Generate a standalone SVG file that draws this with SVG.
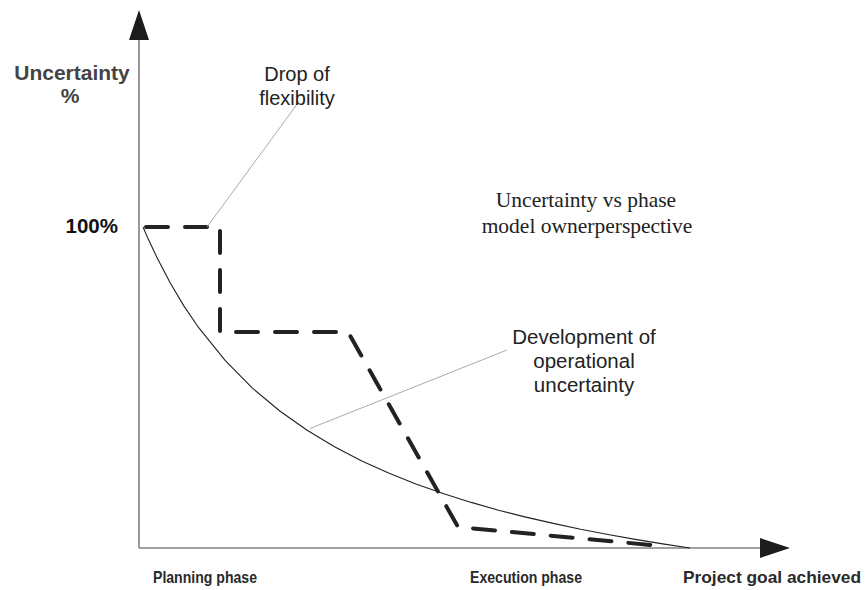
<svg xmlns="http://www.w3.org/2000/svg" width="867" height="590" viewBox="0 0 867 590">
<style>
.axis{stroke:#808080;stroke-width:1.6;fill:none}
.head{fill:#1c1c1c}
.curve{stroke:#222;stroke-width:1.1;fill:none;stroke-linejoin:round}
.dash{stroke:#222;stroke-width:4;fill:none;stroke-dasharray:22 17;stroke-linecap:round;stroke-linejoin:round}
.lead{stroke:#a0a0a0;stroke-width:0.9;fill:none}
.sans{font-family:"Liberation Sans",Arial,sans-serif;fill:#222}
.serif{font-family:"Liberation Serif","Times New Roman",serif;fill:#222}
.bold{font-weight:bold}
.narrow{font-family:"Liberation Sans Narrow","Liberation Sans",Arial,sans-serif;font-weight:bold;font-size:17px;fill:#2a2a2a}
</style>
<rect width="867" height="590" fill="#fff"/>
<g id="axes">
<line class="axis" x1="139" y1="548" x2="139" y2="38"/>
<polygon class="head" points="139,10 149,40 129,40"/>
<line class="axis" x1="139" y1="548" x2="762" y2="548"/>
<polygon class="head" points="790,548 760,538 760,558"/>
</g>
<g id="connectors">
<path class="curve" d="M143,227 L148.5,239.6 L156.7,257 L170.4,283.2 L184,306.1 L197.7,326.3 L225.1,360.4 L252.4,388.1 L279.8,411 L307.1,430.3 L334.5,446.7 L361.8,460.9 L389.2,473.3 L416.5,484.2 L443.9,493.8 L471.2,502.4 L498.6,510.2 L525.9,517.1 L553.3,523.4 L580.6,529.3 L608,534.5 L635.3,539.4 L662.7,543.9 L690,548"/>
<path class="dash" d="M146,227 L220,227 L220,332 L348,332 L458,527 L662,546"/>
<line class="lead" x1="207" y1="227" x2="298" y2="103"/>
<line class="lead" x1="310" y1="428.5" x2="507" y2="350"/>
</g>
<g id="ylabel">
<text class="sans bold" x="72" y="80" font-size="21" text-anchor="middle" style="fill:#444">Uncertainty</text>
<text class="sans bold" x="70" y="103" font-size="21" text-anchor="middle" style="fill:#444">%</text>
</g>
<g id="tick100">
<text class="sans bold" x="118" y="233" font-size="20.5" text-anchor="end" style="fill:#111">100%</text>
</g>
<g id="drop-flexibility">
<text class="sans" x="297" y="81" font-size="20" text-anchor="middle">Drop of</text>
<text class="sans" x="297" y="105" font-size="20" text-anchor="middle">flexibility</text>
</g>
<g id="title">
<text class="serif" x="586" y="207" font-size="21.5" text-anchor="middle">Uncertainty vs phase</text>
<text class="serif" x="587" y="233" font-size="21.5" text-anchor="middle">model ownerperspective</text>
</g>
<g id="operational">
<text class="sans" x="584" y="344" font-size="20.5" text-anchor="middle">Development of</text>
<text class="sans" x="584" y="368" font-size="20.5" text-anchor="middle">operational</text>
<text class="sans" x="584" y="392" font-size="20.5" text-anchor="middle">uncertainty</text>
</g>
<g id="phases">
<text class="narrow" x="153" y="583" textLength="104" lengthAdjust="spacingAndGlyphs">Planning phase</text>
<text class="narrow" x="470" y="583" textLength="112" lengthAdjust="spacingAndGlyphs">Execution phase</text>
<text class="narrow" x="683" y="583" textLength="178" lengthAdjust="spacingAndGlyphs">Project goal achieved</text>
</g>
</svg>
